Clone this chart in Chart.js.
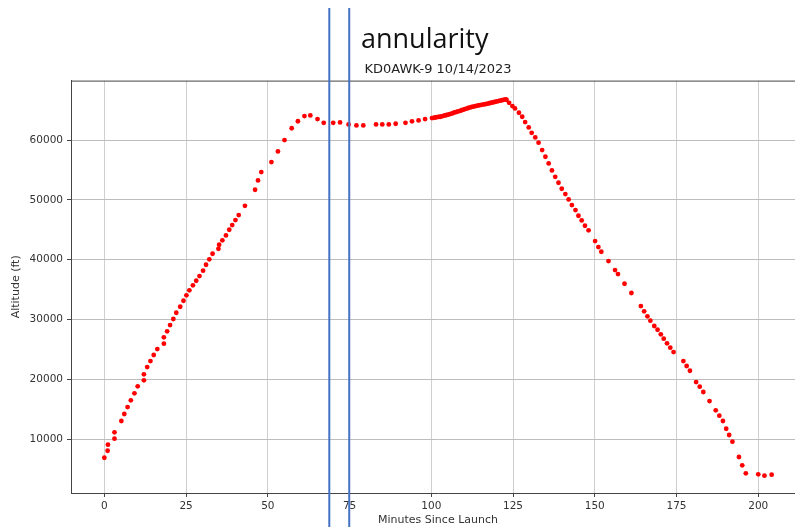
<!DOCTYPE html>
<html>
<head>
<meta charset="utf-8">
<script src="https://cdn.jsdelivr.net/npm/chart.js@4.4.0/dist/chart.umd.min.js"></script>
<style>
  html, body { margin: 0; padding: 0; background: #fff; }
  #wrap { position: relative; width: 795px; height: 527px; overflow: hidden; }
  #myChart { display: block; }
  #note { position: absolute; left: 361px; top: 19px; font: 27px "Open Sans", sans-serif; color: #111; }
</style>
</head>
<body>
<div id="wrap">
  <canvas id="myChart" width="830" height="527"></canvas>
  <div id="note">annularity</div>
</div>
<script>
// flight log
const minutes = [
  0, 1.0, 1.1, 3.1, 3.1, 5.2, 6.1, 7.1, 8.1, 9.2, 10.2, 12.1, 12.1, 13.1, 14.1, 15.1, 16.2,
  18.2, 18.2, 19.2, 20.1, 21.1, 22.0, 23.2, 24.2, 25.1, 26.0, 27.1, 28.1, 29.1, 30.2, 31.1,
  32.1, 33.1, 34.9, 35.1, 36.1, 37.2, 38.2, 39.1, 40.1, 41.1, 43.0, 46.1, 47.0, 48.0, 51.1,
  53.1, 55.1, 57.3, 59.2, 61.2, 63.0, 65.2, 67.1, 70.0, 72.1, 74.7, 77.1, 79.2, 83.1, 85.0,
  87.0, 89.1, 92.1, 94.1, 96.1, 98.1,
  100.2, 100.7, 101.2, 101.7, 102.2, 102.7, 103.2, 103.7, 104.2, 104.7, 105.2, 105.7, 106.2,
  106.7, 107.2, 107.7, 108.2, 108.8, 109.3, 109.8, 110.3, 110.8, 111.3, 111.9, 112.4, 112.9,
  113.4, 113.9, 114.4, 114.9, 115.4, 116.0, 116.5, 117.0, 117.5, 118.0, 118.5, 119.0, 119.5,
  120.0, 120.5, 121.0, 121.6, 122.1, 122.6, 123.0,
  123.8, 124.8, 125.6, 126.8, 127.8, 128.7, 129.8, 130.7, 131.8, 132.8, 133.9, 134.9, 135.9,
  136.9, 137.9, 138.9, 139.9, 141.0, 142.0, 143.0, 144.1, 145.0, 146.0, 147.0, 148.1, 150.1,
  151.1, 152.0, 154.2, 156.2, 157.1, 159.1, 161.2, 164.1, 165.1, 166.1, 167.0, 168.2, 169.2,
  170.2, 171.1, 172.1, 173.1, 174.1, 177.1, 178.1, 179.1, 181.0, 182.1, 183.2, 185.1, 187.0,
  188.1, 189.2, 190.2, 191.1, 192.1, 194.1, 195.1, 196.2, 200.0, 201.9, 204.1
];
const altitudeFt = [
  6870, 8040, 9050, 10050, 11120, 13010, 14180, 15350, 16470, 17640, 18810, 19820, 20820,
  22040, 23040, 24050, 25050, 25940, 27010, 28010, 29060, 30070, 31120, 32120, 33130, 34030,
  34870, 35700, 36470, 37260, 38150, 39150, 40050, 40990, 41820, 42490, 43230, 44060, 45000,
  45790, 46620, 47460, 49010, 51690, 53260, 54650, 56320, 58110, 60000, 61980, 63150, 64010,
  64130, 63510, 62890, 62890, 62960, 62620, 62460, 62460, 62620, 62620, 62620, 62730, 62890,
  63130, 63290, 63510,
  63680, 63730, 63780, 63830, 63870, 63900, 63980, 64050, 64120, 64200, 64270, 64350, 64440,
  64530, 64620, 64710, 64800, 64900, 64990, 65090, 65180, 65270, 65370, 65470, 65540, 65600,
  65670, 65730, 65800, 65850, 65900, 65960, 66010, 66070, 66130, 66200, 66260, 66330, 66390,
  66460, 66530, 66590, 66660, 66730, 66800, 66750,
  66240, 65690, 65300, 64570, 63900, 63010, 62120, 61220, 60450, 59560, 58330, 57210, 56100,
  54930, 53860, 52860, 51860, 50970, 50080, 49130, 48290, 47340, 46570, 45670, 44900, 43110,
  42110, 41320, 39770, 38260, 37590, 35970, 34420, 32240, 31360, 30520, 29790, 28900, 28280,
  27510, 26780, 26000, 25270, 24550, 23040, 22210, 21420, 19530, 18750, 17860, 16350, 14800,
  13900, 13010, 11720, 10670, 9550, 6990, 5600, 4260, 4100, 3860, 4030
];
const xTicks = [0, 25, 50, 75, 100, 125, 150, 175, 200];
const yTicks = [10000, 20000, 30000, 40000, 50000, 60000];
const annularityMinutes = [68.8, 74.9];

let points = [];
for (let i = 0; i < minutes.length; i++) {
    points.push({ x: minutes[i], y: altitudeFt[i] });
}

const tickFont = { family: "DejaVu Sans", size: 10.5 };
const titleFont = { family: "DejaVu Sans", size: 11 };

// top spine + the two blue marker lines drawn over the whole picture
const annularityLines = {
    id: "annularityLines",
    afterDraw(chart) {
        const ctx = chart.ctx;
        const area = chart.chartArea;
        const xs = chart.scales.x;
        ctx.save();
        ctx.strokeStyle = "#444";
        ctx.lineWidth = 1;
        ctx.beginPath();
        ctx.moveTo(area.left, area.top + 0.5);
        ctx.lineTo(area.right, area.top + 0.5);
        ctx.moveTo(area.right - 0.5, area.top);
        ctx.lineTo(area.right - 0.5, area.bottom);
        ctx.stroke();
        ctx.strokeStyle = "#4472c4";
        ctx.lineWidth = 2;
        annularityMinutes.forEach(m => {
            const px = xs.getPixelForValue(m);
            ctx.beginPath();
            ctx.moveTo(px, 8);
            ctx.lineTo(px, chart.height);
            ctx.stroke();
        });
        ctx.restore();
    }
};

new Chart("myChart", {
    type: "scatter",
    data: {
        datasets: [{
            data: points,
            pointRadius: 2.4,
            pointHoverRadius: 2.4,
            pointBackgroundColor: "#ff0000",
            pointBorderWidth: 0,
            showLine: false
        }]
    },
    options: {
        responsive: false,
        animation: false,
        events: [],
        layout: { padding: { left: 0, right: 25, top: 0, bottom: 0 } },
        plugins: {
            legend: { display: false },
            tooltip: { enabled: false },
            title: {
                display: true,
                text: "KD0AWK-9 10/14/2023",
                fullSize: false,
                color: "#222",
                font: { family: "DejaVu Sans", size: 13, weight: "normal" },
                padding: { top: 62, bottom: 3 }
            }
        },
        scales: {
            x: {
                type: "linear",
                min: -10.2,
                max: 214.3,
                afterBuildTicks: s => { s.ticks = xTicks.map(v => ({ value: v })); },
                afterFit: s => { s.height = 34; },
                grid: { color: "#cfcfcf", tickColor: "#444", tickLength: 4 },
                border: { color: "#444", width: 1 },
                ticks: { font: tickFont, color: "#333", padding: 3, maxRotation: 0, autoSkip: false, callback: v => String(v) },
                title: { display: true, text: "Minutes Since Launch", font: titleFont, color: "#333", padding: { top: 1, bottom: 0 } }
            },
            y: {
                type: "linear",
                min: 970,
                max: 69950,
                afterBuildTicks: s => { s.ticks = yTicks.map(v => ({ value: v })); },
                afterFit: s => { s.width = 71; },
                grid: { color: "#bdbdbd", tickColor: "#444", tickLength: 4 },
                border: { color: "#444", width: 1 },
                ticks: { font: tickFont, color: "#333", padding: 4, autoSkip: false, callback: v => String(v) },
                title: { display: true, text: "Altitude (ft)", font: titleFont, color: "#333", padding: { top: 10, bottom: 0 } }
            }
        }
    },
    plugins: [annularityLines]
});
</script>
</body>
</html>
